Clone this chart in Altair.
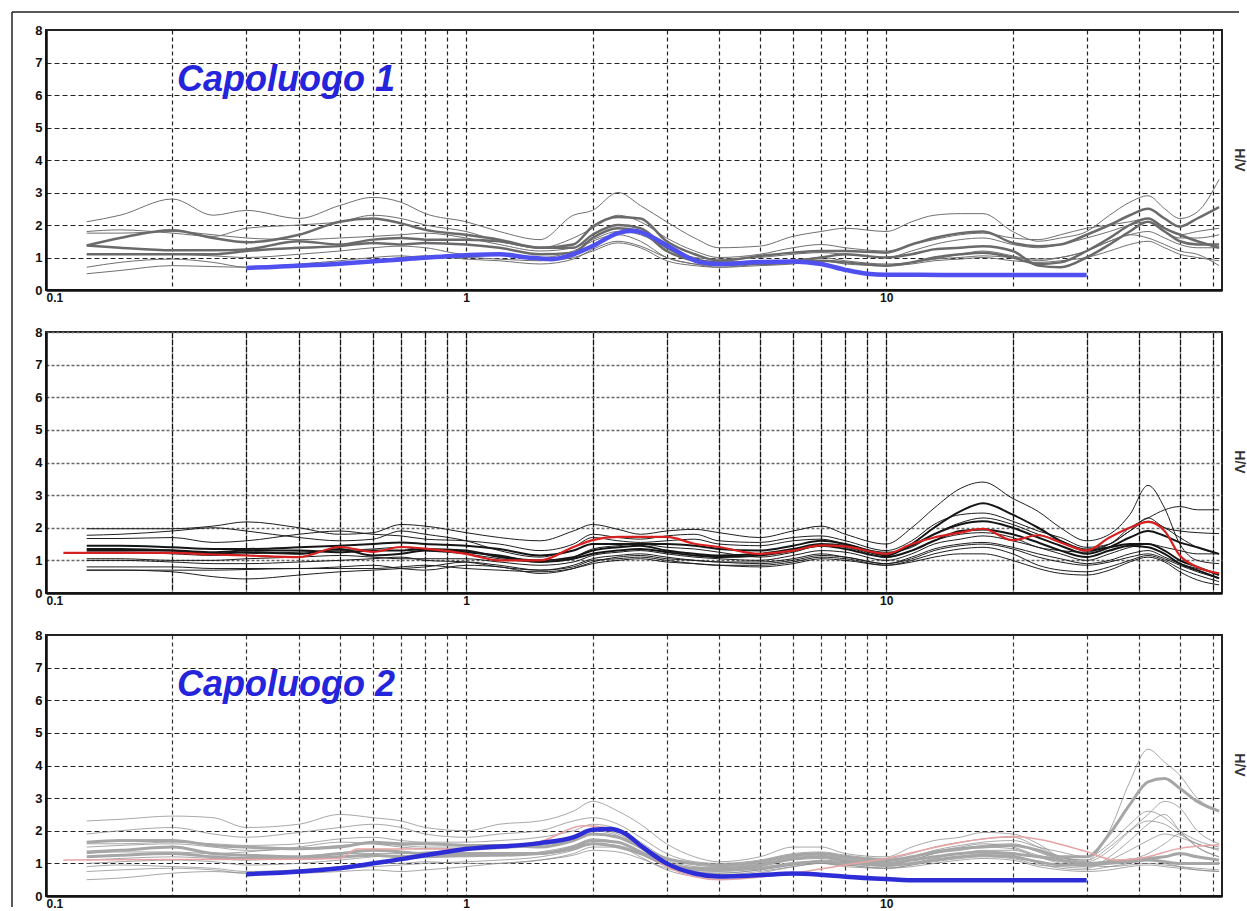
import altair as alt
import pandas as pd

# ---------------- data ----------------
FREQ = [0.125, 0.15, 0.2, 0.25, 0.3, 0.4, 0.5, 0.6, 0.7, 0.8,
        1.0, 1.2, 1.5, 1.8, 2.0, 2.3, 2.6, 3.0, 3.5, 4,
        5, 6, 7, 8, 10, 11.5, 13, 15, 17, 20,
        23, 26, 30, 34, 38, 42, 46, 50, 55, 62]

X_GRID = [0.1, 0.2, 0.3, 0.4, 0.5, 0.6, 0.7, 0.8, 0.9,
          1, 2, 3, 4, 5, 6, 7, 8, 9, 10, 20, 30, 40, 50, 60]
Y_GRID = [0, 1, 2, 3, 4, 5, 6, 7, 8]
TITLES = ["Capoluogo 1", "Capoluogo 2"]
Y_LABEL = "H/V"

# Panel 1 (grey curves)
P1_A = [2.1, 2.3, 2.8, 2.3, 2.45, 2.2, 2.6, 2.85, 2.7, 2.35,
        2.1, 1.8, 1.55, 2.3, 2.45, 3.0, 2.6, 2.1, 1.6, 1.3,
        1.35, 1.65, 1.8, 1.9, 1.8, 2.1, 2.3, 2.35, 2.35, 1.8,
        1.5, 1.6, 1.8, 2.3, 2.7, 2.9, 2.5, 2.2, 2.4, 3.4]
P1_B = [1.37, 1.6, 1.84, 1.6, 1.47, 1.7, 2.1, 2.2, 2.05, 1.85,
        1.7, 1.55, 1.3, 1.4, 1.95, 2.25, 2.2, 1.5, 1.1, 0.9,
        1.05, 1.15, 1.2, 1.2, 1.15, 1.4, 1.6, 1.75, 1.8, 1.45,
        1.35, 1.4, 1.7, 2.0, 2.3, 2.5, 2.2, 1.95, 2.2, 2.55]
P1_C = [1.37, 1.3, 1.22, 1.22, 1.25, 1.5, 1.4, 1.55, 1.6, 1.55,
        1.55, 1.5, 1.3, 1.3, 1.7, 2.0, 1.9, 1.3, 0.95, 0.85,
        0.85, 0.9, 1.0, 1.1, 1.0, 1.1, 1.25, 1.3, 1.35, 1.2,
        0.75, 0.7, 1.0, 1.4, 1.8, 2.1, 1.8, 1.5, 1.4, 1.4]
P1_D = [1.1, 1.1, 1.1, 1.1, 1.2, 1.3, 1.35, 1.45, 1.4, 1.45,
        1.4, 1.3, 1.1, 1.15, 1.6, 1.9, 1.8, 1.2, 0.9, 0.8,
        0.8, 0.85, 0.9, 0.85, 0.75, 0.85, 1.0, 1.1, 1.15, 1.0,
        0.8, 0.85, 1.2, 1.6, 2.0, 2.2, 1.9, 1.7, 1.5, 1.3]
P1_E = [1.8, 1.85, 1.75, 1.65, 1.9, 2.0, 2.1, 2.3, 2.2, 2.0,
        1.8, 1.5, 1.3, 1.6, 1.9, 2.3, 2.1, 1.6, 1.2, 1.0,
        1.1, 1.3, 1.4, 1.3, 1.2, 1.4, 1.55, 1.7, 1.75, 1.6,
        1.55, 1.7, 1.9, 2.0, 2.1, 2.2, 1.9, 1.7, 1.8, 1.9]
P1_F = [1.1, 1.1, 1.1, 1.05, 1.0, 1.1, 1.2, 1.3, 1.35, 1.3,
        1.1, 1.1, 1.0, 1.2, 1.5, 1.7, 1.5, 1.0, 0.8, 0.7,
        0.8, 0.9, 1.0, 0.9, 0.8, 0.85, 0.95, 1.1, 1.2, 1.05,
        0.9, 1.0, 1.2, 1.5, 1.7, 1.8, 1.6, 1.4, 1.3, 1.3]
P1_G = [0.5, 0.6, 0.75, 0.72, 0.7, 0.8, 0.9, 1.0, 1.05, 1.0,
        1.0, 0.95, 0.9, 1.0, 1.2, 1.45, 1.3, 0.9, 0.75, 0.7,
        0.75, 0.8, 0.9, 0.85, 0.75, 0.8, 0.9, 0.95, 1.0, 0.9,
        0.85, 0.9, 1.0, 1.2, 1.4, 1.5, 1.3, 1.1, 1.0, 0.9]
P1_H = [0.7, 0.85, 0.95, 0.85, 0.7, 0.75, 0.8, 0.9, 1.0, 1.05,
        0.95, 0.9, 0.8, 0.95, 1.25, 1.5, 1.35, 1.0, 0.8, 0.75,
        0.8, 0.85, 0.9, 0.8, 0.75, 0.85, 0.95, 1.0, 1.05, 1.0,
        0.95, 1.0, 1.2, 1.5, 1.7, 1.6, 1.4, 1.2, 1.1, 0.75]
P1_I = [1.75, 1.75, 1.8, 1.7, 1.6, 1.55, 1.6, 1.65, 1.7, 1.75,
        1.6, 1.4, 1.2, 1.3, 1.55, 1.8, 1.7, 1.3, 1.0, 0.95,
        1.0, 1.1, 1.15, 1.1, 1.0, 1.2, 1.4, 1.55, 1.6, 1.4,
        1.3, 1.4, 1.6, 1.8, 2.0, 2.1, 1.8, 1.6, 1.6, 1.7]

P1_BLUE_F = [0.3, 0.5, 0.7, 1.0, 1.2, 1.4, 1.6, 1.8, 2.0, 2.3, 2.5, 2.7, 3.0,
             3.6, 4, 5, 6, 7, 8, 9, 10, 12, 15, 20, 30]
P1_BLUE_V = [0.68, 0.81, 0.94, 1.07, 1.1, 1.0, 0.95, 1.1, 1.35, 1.75, 1.82, 1.7, 1.38,
             0.86, 0.8, 0.86, 0.88, 0.8, 0.62, 0.5, 0.47, 0.47, 0.46, 0.46, 0.46]

# Panel 2 (black curves)
P2_K1 = [1.97, 1.97, 1.97, 2.05, 2.18, 2.0, 1.8, 1.85, 2.1, 2.05,
         1.85, 1.7, 1.6, 1.9, 2.1, 1.95, 1.8, 1.9, 1.95, 1.85,
         1.7, 1.9, 2.05, 1.8, 1.5, 2.0, 2.6, 3.2, 3.4, 2.9,
         2.5, 2.0, 1.6, 1.8, 2.4, 3.3, 2.6, 1.5, 1.0, 0.9]
P2_K2 = [1.3, 1.3, 1.3, 1.25, 1.3, 1.3, 1.25, 1.3, 1.3, 1.35,
         1.3, 1.1, 1.0, 1.1, 1.3, 1.4, 1.45, 1.3, 1.2, 1.15,
         1.2, 1.35, 1.5, 1.45, 1.15, 1.5, 2.0, 2.5, 2.75, 2.4,
         2.0, 1.6, 1.3, 1.4, 1.5, 1.5, 1.3, 1.0, 0.8, 0.55]
P2_K3 = [1.35, 1.35, 1.3, 1.2, 1.25, 1.2, 1.35, 1.15, 1.2, 1.3,
         1.25, 1.15, 0.95, 1.05, 1.2, 1.3, 1.35, 1.25, 1.15, 1.1,
         1.15, 1.3, 1.45, 1.35, 1.1, 1.3, 1.6, 1.9, 1.95, 1.8,
         1.55, 1.3, 1.1, 1.3, 1.45, 1.4, 1.2, 0.9, 0.7, 0.45]
P2_K4 = [1.67, 1.67, 1.7, 1.55, 1.6, 1.8, 1.9, 1.8, 1.75, 1.65,
         1.6, 1.5, 1.3, 1.5, 1.8, 1.7, 1.65, 1.75, 1.8, 1.6,
         1.55, 1.7, 1.75, 1.6, 1.3, 1.6, 2.1, 2.4, 2.45, 2.2,
         1.9, 1.7, 1.4, 1.5, 1.9, 2.2, 2.0, 1.7, 1.4, 1.2]
P2_K5 = [1.77, 1.8, 1.9, 2.0, 1.9, 1.7, 1.6, 1.65, 1.9, 1.8,
         1.6, 1.3, 1.1, 1.4, 1.7, 1.6, 1.55, 1.6, 1.65, 1.5,
         1.45, 1.6, 1.65, 1.5, 1.25, 1.4, 1.8, 2.15, 2.3, 2.1,
         1.8, 1.6, 1.35, 1.5, 2.0, 2.3, 2.55, 2.65, 2.55, 2.55]
P2_K6 = [1.05, 1.05, 1.0, 1.0, 1.05, 1.1, 1.15, 1.1, 1.05, 1.05,
         1.05, 0.95, 0.85, 0.95, 1.15, 1.25, 1.3, 1.2, 1.1, 1.05,
         1.0, 1.15, 1.3, 1.25, 1.0, 1.2, 1.5, 1.65, 1.75, 1.6,
         1.4, 1.2, 1.0, 1.2, 1.4, 1.5, 1.4, 1.3, 1.2, 1.2]
P2_K7 = [0.8, 0.8, 0.8, 0.75, 0.75, 0.75, 0.8, 0.85, 0.75, 0.7,
         0.85, 0.8, 0.6, 0.75, 0.95, 1.1, 1.15, 1.05, 1.0, 0.95,
         0.95, 1.05, 1.2, 1.1, 0.9, 1.1, 1.35, 1.5, 1.55, 1.4,
         1.2, 1.05, 0.9, 1.0, 1.2, 1.3, 1.1, 0.9, 0.75, 0.6]
P2_K8 = [0.7, 0.7, 0.65, 0.5, 0.43, 0.55, 0.65, 0.7, 0.75, 0.8,
         0.95, 0.85, 0.7, 0.8, 1.0, 1.05, 1.1, 1.0, 0.9, 0.85,
         0.85, 0.95, 1.1, 1.05, 0.85, 1.0, 1.2, 1.35, 1.4, 1.2,
         0.85, 0.7, 0.65, 0.8, 1.0, 1.15, 1.0, 0.75, 0.55, 0.35]
P2_K9 = [0.7, 0.7, 0.7, 0.7, 0.72, 0.75, 0.75, 0.75, 0.8, 0.85,
         0.75, 0.7, 0.65, 0.75, 0.9, 1.0, 1.05, 0.95, 0.9, 0.85,
         0.8, 0.9, 1.05, 1.0, 0.85, 0.95, 1.1, 1.2, 1.2, 1.0,
         0.75, 0.6, 0.55, 0.7, 0.95, 1.1, 0.95, 0.65, 0.4, 0.25]
P2_K10 = [1.45, 1.45, 1.4, 1.35, 1.35, 1.4, 1.45, 1.5, 1.55, 1.5,
          1.45, 1.35, 1.15, 1.3, 1.5, 1.5, 1.5, 1.5, 1.45, 1.35,
          1.3, 1.45, 1.6, 1.5, 1.2, 1.45, 1.8, 2.1, 2.2, 2.0,
          1.7, 1.45, 1.2, 1.4, 1.7, 1.9, 1.75, 1.55, 1.4, 1.2]
P2_K11 = [1.0, 1.0, 0.95, 0.9, 0.9, 0.95, 1.0, 1.05, 1.1, 1.0,
          0.95, 0.8, 0.7, 0.85, 1.05, 1.15, 1.2, 1.1, 1.0, 0.95,
          0.9, 1.0, 1.15, 1.1, 0.9, 1.05, 1.3, 1.45, 1.5, 1.35,
          1.1, 0.95, 0.85, 0.95, 1.1, 1.2, 1.05, 0.85, 0.65, 0.45]
P2_K12 = [1.25, 1.25, 1.2, 1.15, 1.2, 1.25, 1.3, 1.35, 1.4, 1.3,
          1.2, 1.05, 0.95, 1.1, 1.35, 1.45, 1.5, 1.4, 1.35, 1.25,
          1.1, 1.25, 1.45, 1.4, 1.1, 1.3, 1.6, 1.8, 1.85, 1.7,
          1.4, 1.3, 1.25, 1.5, 1.9, 2.3, 2.0, 1.9, 1.85, 1.82]

P2_RED_F = [0.11] + FREQ
P2_RED_V = [1.23, 1.23, 1.23, 1.23, 1.18, 1.15, 1.1, 1.41, 1.26, 1.41, 1.36,
            1.2, 1.0, 1.0, 1.41, 1.62, 1.72, 1.72, 1.72, 1.51, 1.41,
            1.2, 1.3, 1.46, 1.43, 1.2, 1.5, 1.7, 1.85, 1.97, 1.62,
            1.77, 1.55, 1.3, 1.7, 2.0, 2.18, 1.9, 1.15, 0.8, 0.6]

# Panel 3 (light grey curves)
P3_S1 = [2.3, 2.35, 2.45, 2.4, 2.1, 2.2, 2.5, 2.4, 2.3, 2.1,
         2.0, 2.2, 2.3, 2.6, 2.9, 2.6, 2.2, 1.6, 1.2, 1.05,
         1.2, 1.5, 1.5, 1.3, 1.2, 1.5, 1.7, 1.8, 1.95, 1.9,
         1.6, 1.2, 1.1, 2.0, 3.5, 4.5, 4.1, 3.7, 3.0, 2.6]
P3_S2 = [1.65, 1.7, 1.7, 1.55, 1.5, 1.45, 1.5, 1.65, 1.6, 1.6,
         1.55, 1.55, 1.5, 1.7, 1.9, 1.8, 1.5, 1.15, 1.0, 0.95,
         1.05, 1.25, 1.3, 1.2, 1.1, 1.2, 1.35, 1.45, 1.5, 1.55,
         1.4, 1.2, 1.2, 1.9, 2.8, 3.5, 3.6, 3.3, 2.9, 2.6]
P3_S3 = [1.35, 1.4, 1.5, 1.3, 1.25, 1.2, 1.3, 1.4, 1.35, 1.3,
         1.3, 1.3, 1.3, 1.5, 1.7, 1.65, 1.35, 1.0, 0.85, 0.85,
         0.95, 1.15, 1.2, 1.1, 1.0, 1.1, 1.2, 1.3, 1.35, 1.3,
         1.2, 1.1, 1.0, 1.05, 1.1, 1.15, 1.2, 1.3, 1.2, 1.1]
P3_S4 = [1.2, 1.25, 1.3, 1.2, 1.15, 1.15, 1.2, 1.25, 1.2, 1.2,
         1.25, 1.25, 1.3, 1.45, 1.6, 1.5, 1.3, 0.95, 0.8, 0.8,
         0.85, 1.0, 1.05, 1.0, 0.95, 1.0, 1.1, 1.2, 1.25, 1.2,
         1.05, 0.95, 0.95, 1.0, 1.05, 1.1, 1.05, 1.0, 1.0, 1.0]
P3_S5 = [1.9, 2.0, 2.1, 1.9, 1.8, 1.95, 2.1, 2.2, 2.1, 1.9,
         1.8, 1.9, 2.0, 2.3, 2.4, 2.2, 1.8, 1.3, 1.05, 1.0,
         1.1, 1.3, 1.35, 1.25, 1.15, 1.3, 1.5, 1.65, 1.75, 1.8,
         1.5, 1.2, 1.05, 1.4, 2.0, 2.5, 2.9, 2.7, 2.0, 1.6]
P3_S6 = [0.5, 0.55, 0.7, 0.75, 0.7, 0.7, 0.75, 0.8, 0.75, 0.8,
         0.9, 1.0, 1.1, 1.3, 1.5, 1.5, 1.2, 0.8, 0.6, 0.55,
         0.7, 0.9, 1.0, 0.95, 0.85, 0.95, 1.1, 1.2, 1.3, 1.25,
         1.0, 0.85, 0.8, 0.9, 1.0, 1.1, 1.0, 0.9, 0.8, 0.75]
P3_S7 = [0.9, 0.95, 0.9, 0.85, 0.75, 0.8, 0.85, 0.9, 0.95, 1.0,
         1.05, 1.1, 1.2, 1.4, 1.6, 1.55, 1.3, 0.9, 0.7, 0.65,
         0.75, 0.9, 1.0, 0.9, 0.85, 0.95, 1.05, 1.15, 1.2, 1.15,
         0.95, 0.9, 0.85, 1.2, 1.7, 2.2, 2.5, 2.0, 1.5, 1.2]
P3_S8 = [1.0, 1.05, 1.1, 1.05, 0.95, 1.0, 1.1, 1.2, 1.25, 1.2,
         1.2, 1.25, 1.35, 1.55, 1.75, 1.65, 1.35, 0.95, 0.75, 0.7,
         0.8, 0.95, 1.1, 1.05, 0.95, 1.1, 1.3, 1.45, 1.55, 1.6,
         1.35, 1.1, 0.95, 0.9, 0.95, 1.0, 0.95, 0.9, 0.85, 0.8]
P3_S9 = [1.6, 1.6, 1.65, 1.6, 1.55, 1.6, 1.75, 1.8, 1.7, 1.65,
         1.65, 1.7, 1.8, 2.0, 2.2, 2.05, 1.65, 1.15, 0.95, 0.9,
         1.0, 1.2, 1.25, 1.15, 1.05, 1.2, 1.4, 1.55, 1.65, 1.7,
         1.5, 1.35, 1.2, 1.6, 2.2, 2.6, 2.4, 2.0, 1.7, 1.5]
P3_S10 = [1.3, 1.35, 1.35, 1.3, 1.35, 1.5, 1.65, 1.6, 1.5, 1.45,
          1.45, 1.5, 1.6, 1.8, 2.05, 1.9, 1.5, 1.05, 0.85, 0.8,
          0.9, 1.1, 1.15, 1.05, 0.95, 1.1, 1.3, 1.4, 1.5, 1.45,
          1.2, 1.0, 0.9, 1.1, 1.4, 1.7, 1.9, 1.8, 1.6, 1.4]
P3_S11 = [1.1, 1.15, 1.2, 1.15, 1.1, 1.2, 1.3, 1.3, 1.3, 1.35,
          1.4, 1.45, 1.55, 1.75, 2.0, 1.85, 1.45, 1.0, 0.8, 0.75,
          0.85, 1.0, 1.05, 1.0, 0.9, 1.0, 1.15, 1.3, 1.4, 1.4,
          1.2, 1.05, 0.95, 1.0, 1.1, 1.3, 1.6, 1.9, 1.5, 1.2]
P3_S12 = [0.75, 0.8, 0.85, 0.8, 0.7, 0.8, 0.9, 1.0, 1.0, 1.05,
          1.0, 1.0, 1.1, 1.25, 1.4, 1.35, 1.15, 0.85, 0.7, 0.7,
          0.8, 0.95, 1.0, 0.95, 0.85, 0.9, 1.0, 1.1, 1.15, 1.1,
          0.9, 0.8, 0.75, 0.8, 0.9, 0.95, 0.9, 0.85, 0.8, 0.75]
P3_S13 = [1.5, 1.55, 1.6, 1.5, 1.4, 1.45, 1.55, 1.6, 1.55, 1.5,
          1.5, 1.55, 1.65, 1.85, 2.05, 1.95, 1.6, 1.1, 0.9, 0.85,
          0.95, 1.15, 1.2, 1.1, 1.0, 1.15, 1.35, 1.5, 1.6, 1.5,
          1.25, 1.15, 1.1, 1.5, 2.0, 2.3, 2.2, 1.9, 1.6, 1.45]

P3_RED_F = [0.11, 0.2, 0.3, 0.5, 0.55, 0.7, 1.0, 1.5, 1.9, 2.2, 2.6, 3.0, 4,
            6, 8, 10, 14, 20, 30, 35, 40, 50, 62]
P3_RED_V = [1.1, 1.12, 1.12, 1.15, 1.44, 1.44, 1.44, 1.67, 2.15, 2.08, 1.5, 0.9, 0.5,
            0.7, 0.95, 1.15, 1.57, 1.82, 1.36, 1.1, 1.15, 1.46, 1.57]

P3_BLUE_F = [0.3, 0.5, 0.7, 1.0, 1.5, 1.8, 2.0, 2.2, 2.4, 2.6, 3.0, 3.5, 4,
             5, 6, 7, 8, 10, 12, 20, 30]
P3_BLUE_V = [0.67, 0.85, 1.13, 1.44, 1.62, 1.8, 2.03, 2.05, 1.9, 1.55, 1.0, 0.69, 0.6,
             0.64, 0.69, 0.65, 0.59, 0.52, 0.48, 0.48, 0.48]

# ---------------- helpers ----------------
W = 1176
H = 260


def long_df(series):
    rows = []
    for name, vals in series.items():
        assert len(vals) == len(FREQ), name
        for f, v in zip(FREQ, vals):
            rows.append({"s": name, "f": f, "v": v})
    return pd.DataFrame(rows)


def xy_df(fs, vs):
    assert len(fs) == len(vs)
    return pd.DataFrame({"f": fs, "v": vs})


def panel(thin, thick, extras, title, grid_x, grid_y, height,
          thin_style, thick_style, frame=False):
    xscale = alt.Scale(type="log", domain=[0.1, 63], nice=False)
    yscale = alt.Scale(domain=[0, 8], nice=False, zero=False)
    xaxis = alt.Axis(values=X_GRID, title=None, ticks=False, grid=True,
                     gridColor=grid_x[0], gridDash=grid_x[1], gridWidth=grid_x[2],
                     labelExpr="datum.value == 0.1 ? '0.1' : datum.value == 1 ? '1' : datum.value == 10 ? '10' : ''",
                     labelOverlap=False, labelPadding=2, labelFontSize=12,
                     labelFontWeight="bold", labelColor="#111",
                     domainColor="#111", domainWidth=2.5)
    yaxis = alt.Axis(values=Y_GRID, title=None, ticks=False, grid=True,
                     gridColor=grid_y[0], gridDash=grid_y[1], gridWidth=grid_y[2],
                     labelPadding=4, labelFontSize=13, labelFontWeight="bold",
                     labelColor="#111", labelFlush=False,
                     domainColor="#111", domainWidth=2.5)
    X = alt.X("f:Q", scale=xscale, axis=xaxis)
    Y = alt.Y("v:Q", scale=yscale, axis=yaxis)

    layers = []
    layers.append(alt.Chart(long_df(thin)).mark_line(clip=True, interpolate="monotone", **thin_style)
                  .encode(x=X, y=Y, detail="s:N"))
    layers.append(alt.Chart(long_df(thick)).mark_line(clip=True, interpolate="monotone", **thick_style)
                  .encode(x=X, y=Y, detail="s:N"))
    for df, style in extras:
        layers.append(alt.Chart(df).mark_line(clip=True, interpolate="monotone", **style)
                      .encode(x=X, y=Y))
    if title:
        layers.append(alt.Chart(pd.DataFrame({"t": [title]})).mark_text(
            align="left", baseline="alphabetic", font="Liberation Sans", fontSize=36,
            fontStyle="italic", fontWeight="bold", color="#2424dc")
            .encode(text="t:N", x=alt.value(131), y=alt.value(61)))
    layers.append(alt.Chart(pd.DataFrame({"t": [Y_LABEL]})).mark_text(
        align="center", baseline="middle", font="Liberation Sans", fontSize=14,
        fontWeight="bold", angle=90, color="#333")
        .encode(text="t:N", x=alt.value(W + 17), y=alt.value(130)))
    if frame:
        one = pd.DataFrame({"a": [0]})
        layers.append(alt.Chart(one).mark_rule(color="#222", strokeWidth=1.5)
                      .encode(x=alt.value(-34), y=alt.value(-18), y2=alt.value(877)))
        layers.append(alt.Chart(one).mark_rule(color="#222", strokeWidth=1.5)
                      .encode(x=alt.value(-34), x2=alt.value(1193), y=alt.value(-18)))
    return alt.layer(*layers).properties(width=W, height=height)


p1 = panel(
    thin={"a": P1_A, "e": P1_E, "f": P1_F, "g": P1_G, "h": P1_H, "i": P1_I},
    thick={"b": P1_B, "c": P1_C, "d": P1_D},
    extras=[(xy_df(P1_BLUE_F, P1_BLUE_V), {"color": "#5050f0", "strokeWidth": 4.5})],
    title=TITLES[0],
    grid_x=("#222", [4, 3], 1.2), grid_y=("#222", [5, 3], 1.2), height=H,
    thin_style={"color": "#707070", "strokeWidth": 1},
    thick_style={"color": "#6a6a6a", "strokeWidth": 2.5},
    frame=True)

p2 = panel(
    thin={"k1": P2_K1, "k4": P2_K4, "k5": P2_K5, "k6": P2_K6, "k7": P2_K7, "k8": P2_K8,
          "k9": P2_K9, "k11": P2_K11, "k12": P2_K12},
    thick={"k2": P2_K2, "k3": P2_K3, "k10": P2_K10},
    extras=[(xy_df(P2_RED_F, P2_RED_V), {"color": "#d82020", "strokeWidth": 2.2})],
    title=None,
    grid_x=("#111", [6, 1], 1.3), grid_y=("#666", [3, 2], 1.3), height=H + 1,
    thin_style={"color": "#1e1e1e", "strokeWidth": 1},
    thick_style={"color": "#151515", "strokeWidth": 2})

p3 = panel(
    thin={"s1": P3_S1, "s5": P3_S5, "s6": P3_S6, "s7": P3_S7, "s8": P3_S8, "s9": P3_S9,
          "s10": P3_S10, "s11": P3_S11, "s12": P3_S12, "s13": P3_S13},
    thick={"s2": P3_S2, "s3": P3_S3, "s4": P3_S4},
    extras=[(xy_df(P3_RED_F, P3_RED_V), {"color": "#e8a4a4", "strokeWidth": 1.5}),
            (xy_df(P3_BLUE_F, P3_BLUE_V), {"color": "#2d2dd8", "strokeWidth": 4.5})],
    title=TITLES[1],
    grid_x=("#333", [4, 3], 1.2), grid_y=("#222", [5, 3], 1.2), height=H + 1,
    thin_style={"color": "#8c8c8c", "strokeWidth": 0.9, "opacity": 0.85},
    thick_style={"color": "#a6a6a6", "strokeWidth": 3})

chart = alt.vconcat(p1, p2, p3, spacing=42, bounds="flush").properties(
    padding={"left": 10, "top": 10, "right": 0, "bottom": 0},
    background="white",
).configure_view(stroke="#222", strokeWidth=2).configure_axis(
    labelFont="Liberation Sans")

chart.save("out.html", embed_options={"renderer": "svg", "actions": False})
